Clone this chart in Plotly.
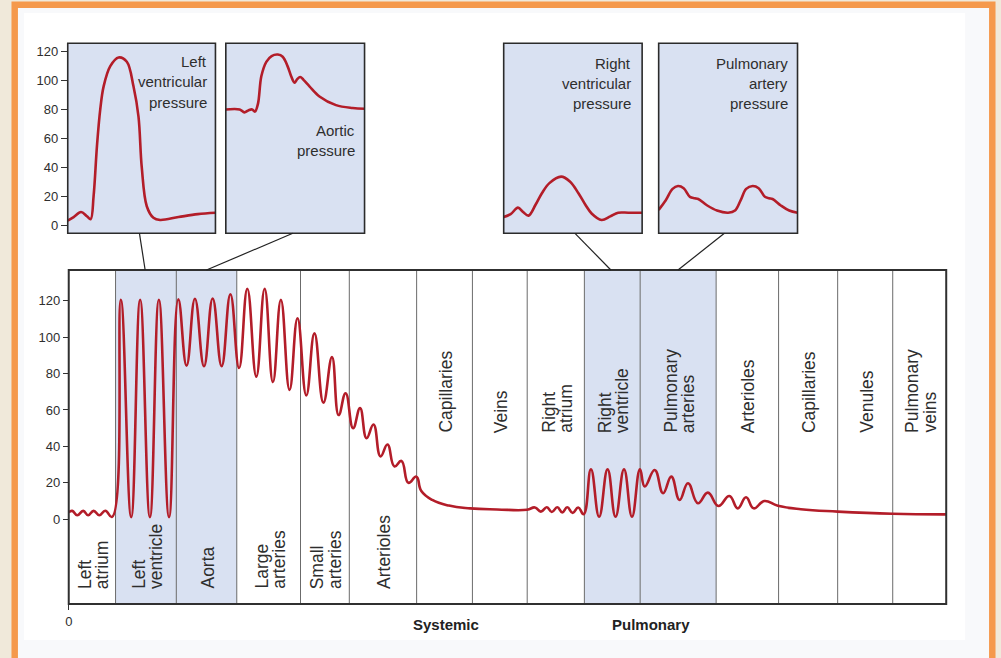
import plotly.graph_objects as go

W, H = 1001, 658
RED = "#b31d29"
BLUE = "#d9e1f2"
TXT = "#2e2e2e"
FONT = "Liberation Sans, Arial, sans-serif"

# ---------------- data ----------------
# main chart: position along the circulation (frame-left = 0) and pressure (mmHg)
main_pos = [0, 3.5, 8.5, 14.5, 19.5, 25, 30.7, 36.7, 43.5,
            52.3, 62.7, 71.7, 81.5, 90.5, 100.7,
            110, 118.3, 126.7, 135.8, 144.5, 153.5, 162.3, 171,
            179.3, 188.3, 196.7, 205, 213, 221.7, 229.7, 238.5,
            246.7, 255.7, 264.3, 271, 278, 285.5,
            292.5, 299, 306, 313, 320, 327, 334, 341, 349,
            354, 365, 381.7, 403, 430, 460,
            468, 474, 480, 485, 490.5, 495.5, 500.5, 506, 511.5, 517,
            524.3, 532.5, 541, 549, 557.5, 565.5, 573.5,
            578.3, 588.3, 596.7, 605, 613.3, 621.7, 631.7, 641.7, 652.3, 663.3,
            671.7, 680, 687.7, 698.3, 712, 735, 772, 827, 881]
main_pressure = [3.8, 4.6, 2.2, 4.6, 2.2, 4.6, 2.2, 4.7, 1.3,
                 120.5, 1.2, 120.5, 1.2, 120.5, 1.2,
                 120.7, 84.3, 121, 84, 121.2, 84, 123.5, 83,
                 126.5, 78.3, 126.5, 75.3, 120.4, 71, 110.3, 68,
                 102, 64, 89, 57.2, 69.2, 50,
                 61, 44.5, 52, 34.5, 41, 29, 32, 20, 23.4,
                 15.5, 10.6, 7.5, 6, 5.4, 5.2,
                 6.5, 4.2, 6.6, 4.0, 6.6, 3.8, 6.6, 3.5, 6.5, 2.8,
                 27.4, 1.4, 27.4, 1.4, 27.4, 1.4, 27.4,
                 18, 27, 14.3, 23.4, 10.6, 19.8, 8.8, 14.6, 7.3, 12.8,
                 6, 12.1, 6, 10, 7.4, 5.5, 4.2, 3.0, 2.7]

segment_edges = [0, 47, 108, 168.7, 232.7, 281.7, 349.3, 405.3, 460.3,
                 517.7, 573.7, 650, 712.7, 772, 827.3, 881]
segment_labels = [["Left", "atrium"], ["Left", "ventricle"], ["Aorta"],
                  ["Large", "arteries"], ["Small", "arteries"], ["Arterioles"],
                  ["Capillaries"], ["Veins"], ["Right", "atrium"],
                  ["Right", "ventricle"], ["Pulmonary", "arteries"], ["Arterioles"],
                  ["Capillaries"], ["Venules"], ["Pulmonary", "veins"]]
shaded_segments = [1, 2, 9, 10]
main_yticks = [0, 20, 40, 60, 80, 100, 120]

# inset waveforms: fraction of cycle, pressure (mmHg)
lv_t = [0, 0.04, 0.09, 0.13, 0.155, 0.175, 0.198, 0.22, 0.243, 0.288, 0.344,
        0.4, 0.445, 0.479, 0.501, 0.535, 0.58, 0.625, 0.75, 0.88, 1.0]
lv_p = [3, 5.5, 9, 6, 4, 20, 55, 80, 96, 110, 116,
        113, 96, 75, 40, 13, 5, 3.5, 5.5, 7.5, 8.5]
ao_t = [0, 0.1, 0.134, 0.165, 0.19, 0.21, 0.232, 0.256, 0.292, 0.33, 0.375, 0.41,
        0.445, 0.471, 0.495, 0.515, 0.536, 0.56, 0.603, 0.675, 0.794, 0.914, 1.0]
ao_p = [80, 80, 78, 79.5, 80, 78.5, 84, 103, 113, 117, 118, 116.5,
        110, 103, 98.5, 101, 102.5, 100.5, 96, 89, 83, 81, 80.5]
rv_t = [0, 0.05, 0.103, 0.14, 0.18, 0.23, 0.276, 0.33, 0.415, 0.48, 0.54,
        0.59, 0.635, 0.707, 0.77, 0.827, 0.9, 1.0]
rv_p = [5.5, 7.5, 12, 9, 6.5, 14, 22, 29, 33.5, 30, 22,
        14, 8, 3.5, 6, 8.5, 8.5, 8.5]
pa_t = [0, 0.05, 0.1, 0.139, 0.18, 0.225, 0.26, 0.285, 0.35, 0.42, 0.5,
        0.55, 0.59, 0.63, 0.677, 0.72, 0.765, 0.795, 0.82, 0.88, 0.94, 1.0]
pa_p = [10.5, 17, 25, 27, 25.5, 19.5, 18.5, 18, 13.5, 10, 8.5,
        10, 17, 25, 27, 25.5, 19.5, 18.5, 18, 13.5, 10, 8.5]
inset_titles = [["Left", "ventricular", "pressure"], ["Aortic", "pressure"],
                ["Right", "ventricular", "pressure"], ["Pulmonary", "artery", "pressure"]]
inset_yticks = [0, 20, 40, 60, 80, 100, 120]

# ---------------- layout helpers ----------------
def fx(px):
    return px / W

def fy(py):
    return 1 - py / H

MAIN = dict(l=65, r=946, t=270, b=604)
INSETS = [dict(l=64, r=212.3), dict(l=222.7, r=362), dict(l=501.7, r=640.7), dict(l=657.3, r=796.7)]
INS_T, INS_B = 43.3, 233.3

fig = go.Figure()

fig.add_trace(go.Scatter(x=main_pos, y=main_pressure, mode="lines",
                         line=dict(color=RED, width=2.6, shape="spline", smoothing=1.3),
                         xaxis="x", yaxis="y", hoverinfo="skip", showlegend=False))

inset_data = [(lv_t, lv_p), (ao_t, ao_p), (rv_t, rv_p), (pa_t, pa_p)]
for i, (t, p) in enumerate(inset_data):
    n = i + 2
    fig.add_trace(go.Scatter(x=t, y=p, mode="lines",
                             line=dict(color=RED, width=2.6, shape="spline", smoothing=1.0),
                             xaxis=f"x{n}", yaxis=f"y{n}", hoverinfo="skip", showlegend=False))

layout = dict(
    width=W, height=H, autosize=False,
    margin=dict(l=0, r=0, t=0, b=0),
    paper_bgcolor="#f0e9da",
    plot_bgcolor="rgba(0,0,0,0)",
    showlegend=False,
    font=dict(family=FONT, color=TXT),
    xaxis=dict(domain=[fx(MAIN["l"]), fx(MAIN["r"])], range=[0, 881],
               showgrid=False, zeroline=False, showline=False,
               tickvals=[0], ticktext=["0"], ticks="outside", ticklen=5,
               tickcolor="#333", tickwidth=1, tickfont=dict(size=13, color=TXT, family=FONT),
               fixedrange=True),
    yaxis=dict(domain=[fy(MAIN["b"]), fy(MAIN["t"])], range=[-46.5, 136.8],
               showgrid=False, zeroline=False, showline=False,
               tickvals=main_yticks, ticks="outside", ticklen=5, tickcolor="#333",
               tickwidth=1, tickfont=dict(size=13, color=TXT, family=FONT), fixedrange=True),
)
for i, ins in enumerate(INSETS):
    n = i + 2
    layout[f"xaxis{n}"] = dict(domain=[fx(ins["l"]), fx(ins["r"])], range=[0, 1],
                               visible=False, fixedrange=True, anchor=f"y{n}")
    yax = dict(domain=[fy(INS_B), fy(INS_T)], range=[-5.75, 125.8], anchor=f"x{n}",
               showgrid=False, zeroline=False, showline=False, fixedrange=True)
    if i == 0:
        yax.update(tickvals=inset_yticks, ticks="outside", ticklen=6, tickcolor="#333",
                   tickwidth=1, tickfont=dict(size=13, color=TXT, family=FONT))
    else:
        yax.update(visible=False)
    layout[f"yaxis{n}"] = yax
fig.update_layout(**layout)

shapes = []
# page frame
shapes.append(dict(type="rect", xref="paper", yref="paper", x0=fx(7.5), x1=fx(995.5),
                   y0=fy(700), y1=fy(1.5), fillcolor="#f5994c", line=dict(width=0), layer="below"))
shapes.append(dict(type="rect", xref="paper", yref="paper", x0=fx(14), x1=fx(989),
                   y0=fy(700), y1=fy(8), fillcolor="#f8f9fb", line=dict(width=0), layer="below"))
shapes.append(dict(type="rect", xref="paper", yref="paper", x0=fx(20), x1=fx(965),
                   y0=fy(640), y1=fy(13), fillcolor="#ffffff", line=dict(width=0), layer="below"))
# shaded segments
for s in shaded_segments:
    shapes.append(dict(type="rect", xref="x", yref="y domain", x0=segment_edges[s],
                       x1=segment_edges[s + 1], y0=0, y1=1, fillcolor=BLUE,
                       line=dict(width=0), layer="below"))
# dividers
for e in segment_edges[1:-1]:
    shapes.append(dict(type="line", xref="x", yref="y domain", x0=e, x1=e, y0=0, y1=1,
                       line=dict(color="#6b6b6b", width=1), layer="below"))
# main frame
shapes.append(dict(type="rect", xref="x domain", yref="y domain", x0=0, x1=1, y0=0, y1=1,
                   line=dict(color="#303030", width=2), layer="above"))
# insets
for i in range(4):
    n = i + 2
    shapes.append(dict(type="rect", xref=f"x{n} domain", yref=f"y{n} domain", x0=0, x1=1,
                       y0=0, y1=1, fillcolor=BLUE, line=dict(width=0), layer="below"))
    shapes.append(dict(type="rect", xref=f"x{n} domain", yref=f"y{n} domain", x0=0, x1=1,
                       y0=0, y1=1, line=dict(color="#2b2b2b", width=1.6), layer="above"))
# connectors
connectors = [((136, INS_B), (141.7, MAIN["t"])), ((290, INS_B), (203.3, MAIN["t"])),
              ((573.3, INS_B), (609.3, MAIN["t"])), ((723.3, INS_B), (676.7, MAIN["t"]))]
for (ax0, ay0), (ax1, ay1) in connectors:
    shapes.append(dict(type="line", xref="paper", yref="paper", x0=fx(ax0), y0=fy(ay0),
                       x1=fx(ax1), y1=fy(ay1), line=dict(color="#222", width=1.2)))
fig.update_layout(shapes=shapes)

ann = []
LINE_GAP = 17.2
for k, lines in enumerate(segment_labels):
    center = (segment_edges[k] + segment_edges[k + 1]) / 2 + 1
    ybot = fy(591) if k < 6 else fy(435)
    nl = len(lines)
    for j, txt in enumerate(lines):
        xc = center + (j - (nl - 1) / 2) * LINE_GAP
        ann.append(dict(text=txt, xref="x", yref="paper", x=xc, y=ybot, xanchor="center",
                        yanchor="bottom", textangle=-90, showarrow=False,
                        font=dict(size=17.5, color=TXT, family=FONT)))

title_right = [206, 354.5, 632, 789.5]
title_rows = [[61.7, 81.7, 102.7], [130, 150.7], [63.3, 83.3, 103.3], [63.3, 83.3, 103.3]]
for i, lines in enumerate(inset_titles):
    for j, txt in enumerate(lines):
        ann.append(dict(text=txt, xref="paper", yref="paper", x=fx(title_right[i]),
                        y=fy(title_rows[i][j]), xanchor="right", yanchor="middle",
                        showarrow=False, font=dict(size=15, color=TXT, family=FONT)))

ann.append(dict(text="<b>Systemic</b>", xref="paper", yref="paper", x=fx(443.3), y=fy(624),
                xanchor="center", yanchor="middle", showarrow=False,
                font=dict(size=15, color="#222", family=FONT)))
ann.append(dict(text="<b>Pulmonary</b>", xref="paper", yref="paper", x=fx(650), y=fy(624),
                xanchor="center", yanchor="middle", showarrow=False,
                font=dict(size=15, color="#222", family=FONT)))
fig.update_layout(annotations=ann)

fig.write_html("out.html",
               config={"displayModeBar": False, "staticPlot": True},
               post_script="document.body.style.margin='0';document.body.style.padding='0';"
                           "document.documentElement.style.overflow='hidden';")
